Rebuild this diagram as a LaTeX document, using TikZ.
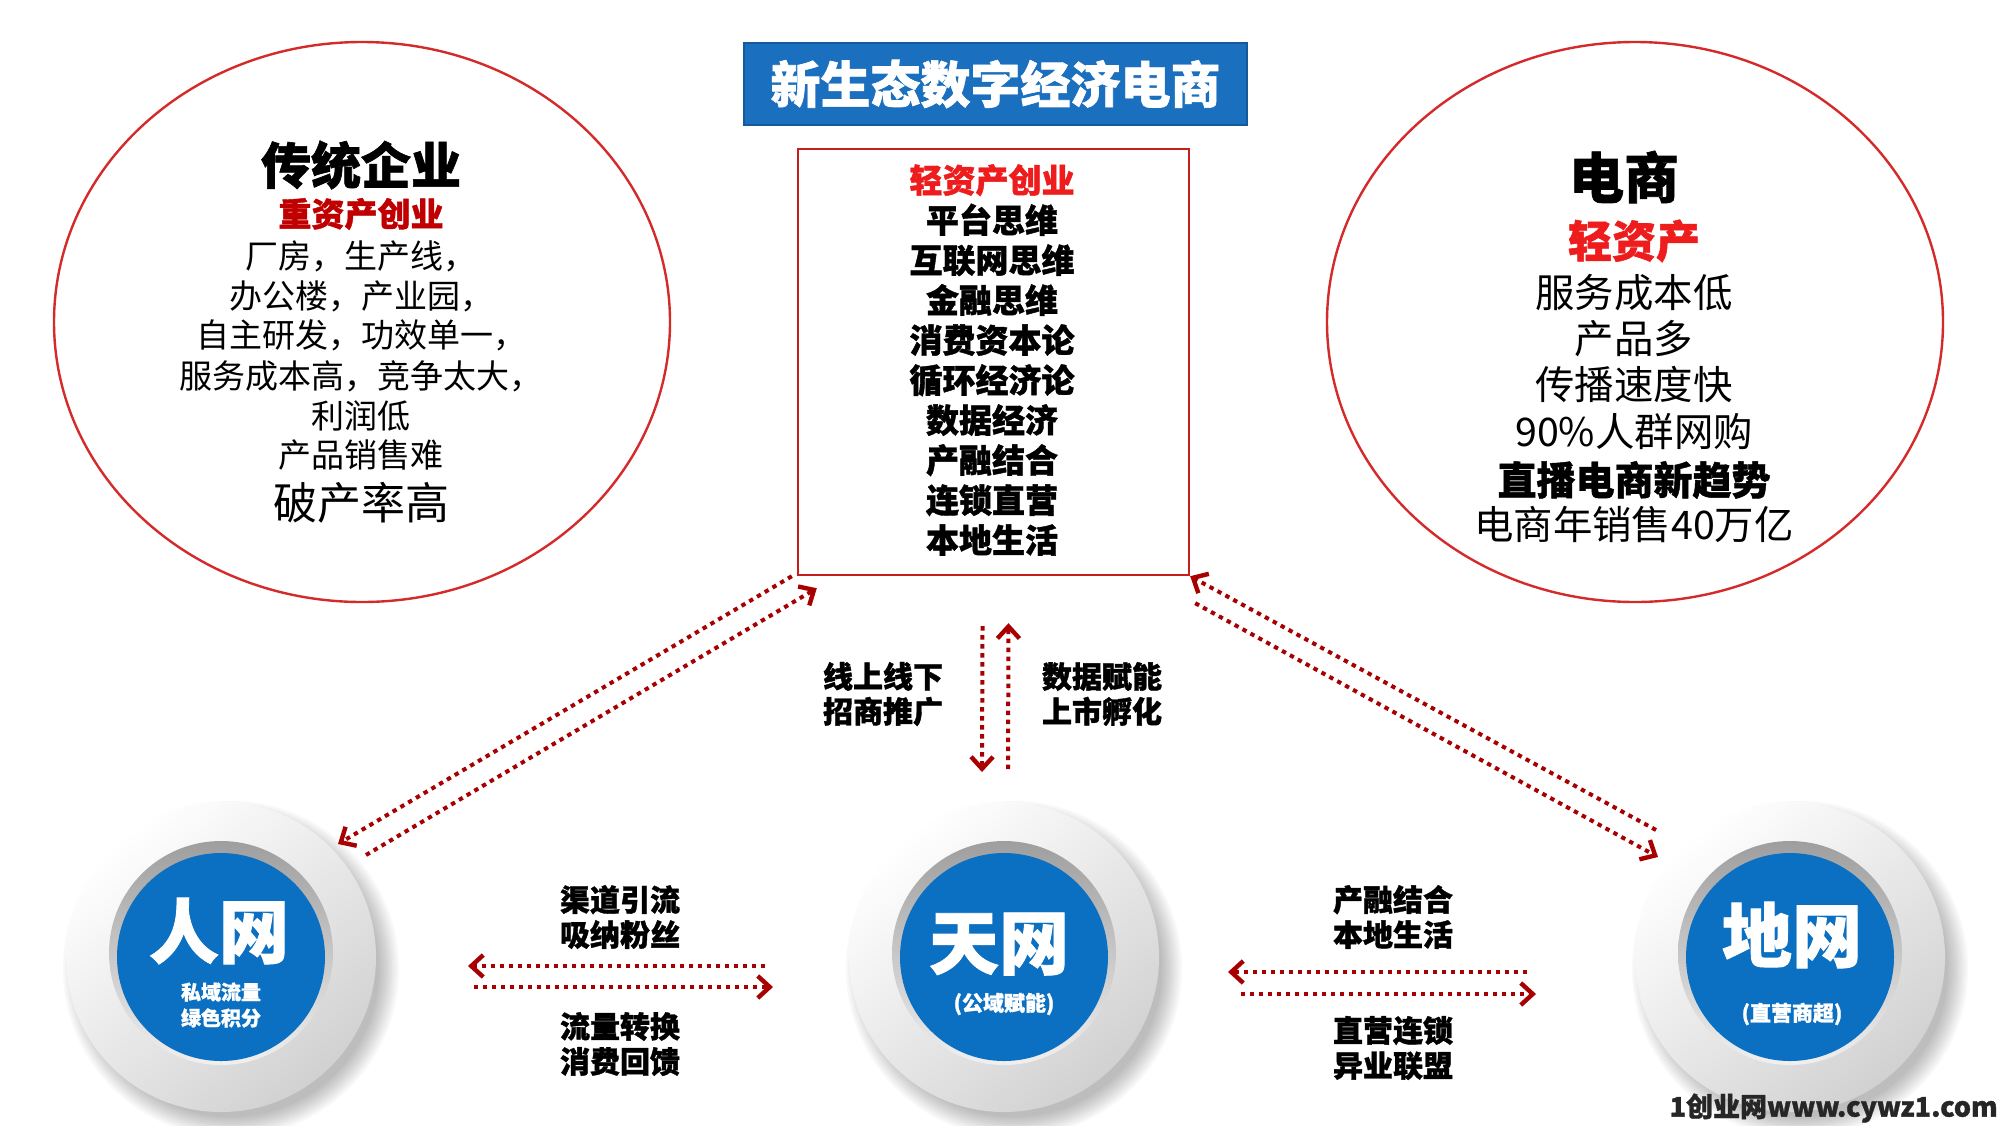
\documentclass[tikz,border=0pt]{standalone}
\usepackage{fontspec}
\setmainfont{Noto Sans CJK SC}
\newfontfamily\hv[BoldFeatures={FakeBold=1.2}]{Noto Sans CJK SC}
\usetikzlibrary{shapes.geometric,arrows.meta,calc}
\definecolor{blueT}{HTML}{1B6FBF}
\definecolor{blueC}{HTML}{0B6FC2}
\definecolor{redE}{HTML}{D42A2A}
\definecolor{redB}{HTML}{C41E1E}
\definecolor{arrowred}{HTML}{A80000}
\definecolor{darkred}{HTML}{C00000}
\definecolor{brightred}{HTML}{EE1C1C}
\newcommand\fsz[2]{\fontsize{#1}{#2}\selectfont}
\begin{document}
\begin{tikzpicture}[x=0.5pt,y=-0.5pt,
  txt/.style={inner sep=0pt,align=center,text=black},
  lab/.style={txt,font=\hv\bfseries\fsz{15pt}{17.5pt}},
  dotarr/.style={draw=arrowred,line width=2pt,dash pattern=on 2.2pt off 2.3pt,
    -{Straight Barb[length=6pt,width=11pt,line width=2.2pt]}},
  bigell/.style={ellipse,draw=redE,line width=1.2pt,minimum width=308pt,minimum height=280pt,inner sep=0pt},
  outerdisc/.style={circle,inner sep=0pt,minimum size=155pt,shading=axis,top color=white,middle color=white!96!black,bottom color=black!18,shading angle=40},
  ringdisc/.style={circle,inner sep=0pt,minimum size=112pt,shading=axis,top color=black!38,bottom color=black!6},
  bluedisc/.style={circle,inner sep=0pt,minimum size=104pt,fill=blueC},
  bigw/.style={inner sep=0pt,text=white,font=\hv\bfseries\fsz{35pt}{40pt}},
  smallw/.style={inner sep=0pt,text=white,align=center,font=\hv\bfseries\fsz{10.5pt}{13pt}}
]
\fill[white] (0,0) rectangle (2000,1125);
\useasboundingbox (0,0) rectangle (2000,1125);

% ellipses
\node[bigell] (trad) at (362,322) {};
\node[bigell] (ecom) at (1635,322) {};

% left ellipse text
\node[txt,font=\hv\bfseries\fsz{25pt}{30pt}] (t1) at (361,165) {传统企业};
\node[txt,text=darkred,font=\hv\bfseries\fsz{16.5pt}{20pt}] (t2) at (361,214) {重资产创业};
\node[txt,font=\fsz{16.5pt}{20pt}] (t3) at (361,256) {厂房，生产线，};
\node[txt,font=\fsz{16.5pt}{20pt}] (t4) at (361,296) {办公楼，产业园，};
\node[txt,font=\fsz{16.5pt}{20pt}] (t5) at (361,335) {自主研发，功效单一，};
\node[txt,font=\fsz{16.5pt}{20pt}] (t6) at (361,376) {服务成本高，竞争太大，};
\node[txt,font=\fsz{16.5pt}{20pt}] (t7) at (361,416) {利润低};
\node[txt,font=\fsz{16.5pt}{20pt}] (t8) at (361,455) {产品销售难};
\node[txt,font=\fsz{22pt}{26pt}] (t9) at (361,503) {破产率高};

% right ellipse text
\node[txt,font=\hv\bfseries\fsz{27.5pt}{32pt}] (e1) at (1624,177) {电商};
\node[txt,text=brightred,font=\hv\bfseries\fsz{22pt}{26pt}] (e2) at (1634,241) {轻资产};
\node[txt,font=\fsz{19.7pt}{23pt}] (e3) at (1634,293) {服务成本低};
\node[txt,font=\fsz{19.7pt}{23pt}] (e4) at (1634,339) {产品多};
\node[txt,font=\fsz{19.7pt}{23pt}] (e5) at (1634,385) {传播速度快};
\node[txt,font=\fsz{19.7pt}{23pt}] (e6) at (1634,432) {90\%人群网购};
\node[txt,font=\hv\bfseries\fsz{19.5pt}{23pt}] (e7) at (1634,480) {直播电商新趋势};
\node[txt,font=\fsz{19.7pt}{23pt}] (e8) at (1634,524) {电商年销售40万亿};

% title
\node[fill=blueT,draw=blueT!80!black,line width=0.6pt,minimum width=251.5pt,minimum height=41pt,inner sep=0pt,text=white,font=\hv\bfseries\fsz{25pt}{30pt}] (title) at (995.5,84) {新生态数字经济电商};

% central box
\node[draw=redB,line width=1.2pt,minimum width=195.5pt,minimum height=213pt,inner sep=0pt] (core) at (993.5,362) {};
\node[txt,font=\hv\bfseries\fsz{16.5pt}{20pt}] (coretxt) at (992,360) {{\color{brightred}轻资产创业}\\平台思维\\互联网思维\\金融思维\\消费资本论\\循环经济论\\数据经济\\产融结合\\连锁直营\\本地生活};

% bottom discs
\foreach \nm/\cx in {ren/221,tian/1004,di/1790}{
  \foreach \k in {0,...,9}
    \fill[black,opacity=0.028] (\cx+10,969) circle[radius={84pt-\k*1.1pt}];
  \node[outerdisc] (\nm) at (\cx,957) {};
  \node[ringdisc] (\nm ring) at (\cx,953) {};
  \node[bluedisc] (\nm blue) at (\cx,957) {};
}
\node[bigw] (rent) at (219,931) {人网};
\node[smallw,font=\hv\bfseries\fsz{10pt}{13pt}] (rens) at (221,1005) {私域流量\\绿色积分};
\node[bigw] (tiant) at (999,944) {天网};
\node[smallw] (tians) at (1004,1004) {(公域赋能)};
\node[bigw] (dit) at (1792,935) {地网};
\node[smallw] (dis) at (1792,1014) {(直营商超)};

% connectors
\draw[dotarr] ($(core.south west)+(-5,0)$) -- ($(ren)+(117,-113)$);
\draw[dotarr] ($(ren)+(145,-102)$) -- ($(core.south west)+(20,12)$);
\draw[dotarr] ($(core.south)+(-11,50)$) -- ($(tian)+(-22,-185)$);
\draw[dotarr] ($(tian)+(4,-188)$) -- ($(core.south)+(15,47)$);
\draw[dotarr] ($(di)+(-134,-127)$) -- (core.south east);
\draw[dotarr] ($(core.south east)+(5,27)$) -- ($(di)+(-132,-100)$);
\draw[dotarr] ($(tian)+(-239,9)$) -- ($(ren)+(247,9)$);
\draw[dotarr] ($(ren)+(253,30)$) -- ($(tian)+(-231,30)$);
\draw[dotarr] ($(di)+(-263,15)$) -- ($(tian)+(224,15)$);
\draw[dotarr] ($(tian)+(237,37)$) -- ($(di)+(-254,37)$);

% labels
\node[lab] (lab1) at (883,694) {线上线下\\招商推广};
\node[lab] (lab2) at (1102,694) {数据赋能\\上市孵化};
\node[lab] (lab3) at (620,917) {渠道引流\\吸纳粉丝};
\node[lab] (lab4) at (620,1044) {流量转换\\消费回馈};
\node[lab] (lab5) at (1393,917) {产融结合\\本地生活};
\node[lab] (lab6) at (1393,1048) {直营连锁\\异业联盟};

% watermark
\node[inner sep=0pt,anchor=east,text=black!85,font=\hv\bfseries\fsz{13.5pt}{15pt}] (wm) at (1998,1108) {1创业网www.cywz1.com};
\end{tikzpicture}
\end{document}
